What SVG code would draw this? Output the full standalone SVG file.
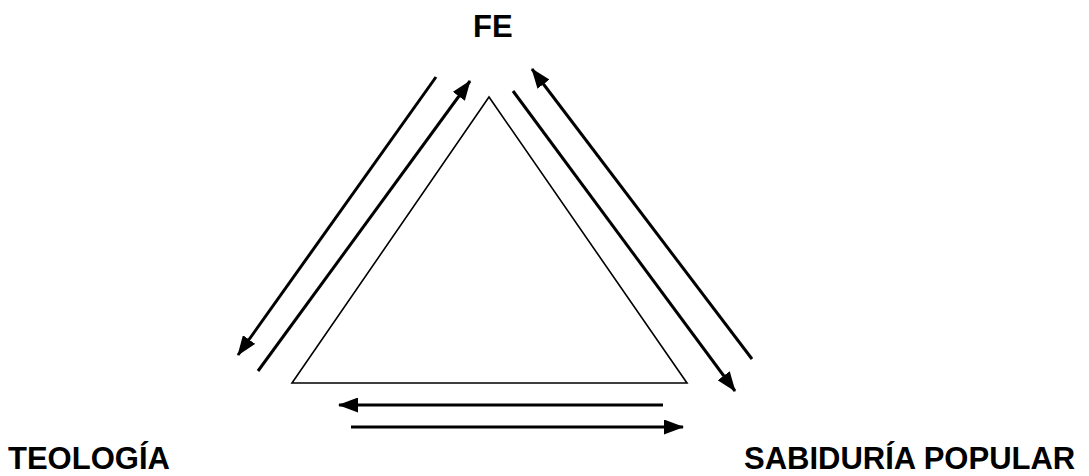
<svg xmlns="http://www.w3.org/2000/svg" width="1089" height="476" viewBox="0 0 1089 476">
<style>
.lbl{font-family:"Liberation Sans",Arial,sans-serif;font-weight:bold;font-size:31px;fill:#000}
.arr{stroke:#000;stroke-width:3;fill:none;marker-end:url(#ah)}
</style>
<defs>
<marker id="ah" markerUnits="userSpaceOnUse" markerWidth="20" markerHeight="15" viewBox="0 0 20 15" refX="19" refY="7.5" orient="auto">
<path d="M0,0 L20,7.5 L0,15 Z" fill="#000"/>
</marker>
</defs>
<rect width="1089" height="476" fill="#fff"/>
<g id="triangle">
<polygon points="489,97 292,383 687,383" fill="none" stroke="#000" stroke-width="1.6"/>
</g>
<g id="fe"><text class="lbl" x="473" y="37">FE</text></g>
<g id="teologia"><text class="lbl" x="8" y="469">TEOLOGÍA</text></g>
<g id="sabiduria"><text class="lbl" x="744" y="469">SABIDURÍA POPULAR</text></g>
<g id="connectors">
<line class="arr" x1="436" y1="77" x2="238" y2="355"/>
<line class="arr" x1="258" y1="371" x2="470" y2="81"/>
<line class="arr" x1="752" y1="359" x2="532" y2="69"/>
<line class="arr" x1="513" y1="91" x2="735" y2="391"/>
<line class="arr" x1="663" y1="405" x2="339" y2="405"/>
<line class="arr" x1="351" y1="427" x2="683" y2="427"/>
</g>
</svg>
